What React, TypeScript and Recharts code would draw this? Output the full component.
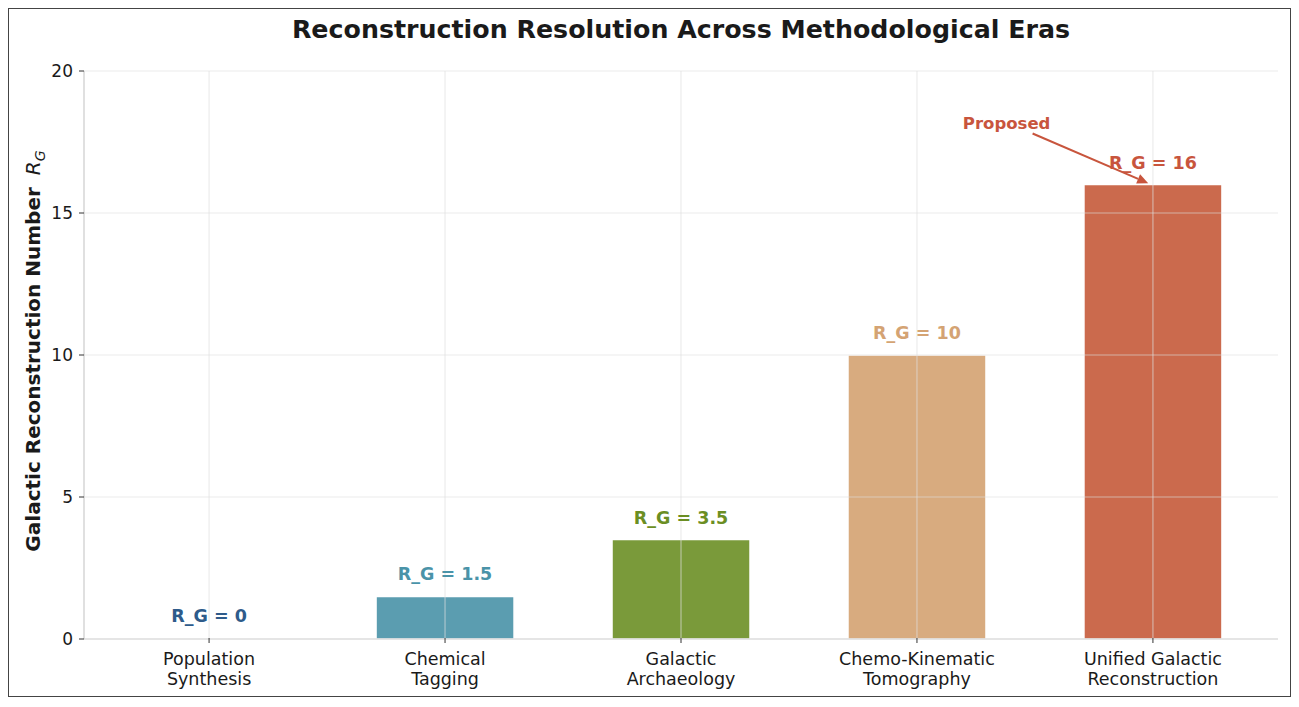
import React from 'react';
import {
  BarChart,
  Bar,
  Cell,
  XAxis,
  YAxis,
  LabelList,
  ReferenceLine,
  ReferenceDot,
} from 'recharts';

const eraNames = [
  ['Population', 'Synthesis'],
  ['Chemical', 'Tagging'],
  ['Galactic', 'Archaeology'],
  ['Chemo-Kinematic', 'Tomography'],
  ['Unified Galactic', 'Reconstruction'],
];
const reconstructionNumber = [0, 1.5, 3.5, 10, 16];
const labelColors = ['#2e5b8a', '#4a93a8', '#6b8e23', '#d4a373', '#c8553d'];
const barColors = ['#2e5b8a', '#5b9db0', '#7a9a3a', '#d8ab7f', '#cb6a4d'];
const yTicks = [0, 5, 10, 15, 20];
const xTicks = [0, 1, 2, 3, 4];

// "Proposed" callout: text anchor and arrow tail/head in data units
const proposedText = { x: 3.38, y: 18.15 };
const proposedArrow = [
  { x: 3.49, y: 17.8 },
  { x: 3.98, y: 16.05 },
];

const FONT = '"DejaVu Sans", "Liberation Sans", sans-serif';
const GRID = { stroke: '#e0e0e0', strokeOpacity: 0.6, strokeWidth: 1.2 };

const data = reconstructionNumber.map((v, i) => ({ idx: i, value: v }));

const EraTick = (props: any) => {
  const { x, y, payload } = props;
  const lines = eraNames[payload.value] || [];
  return (
    <g>
      <line x1={x} x2={x} y1={y - 9} y2={y - 4} stroke="#333" strokeWidth={1} />
      {lines.map((t, i) => (
        <text
          key={i}
          x={x}
          y={y + 18 + i * 20}
          textAnchor="middle"
          fontSize={17.5}
          fontFamily={FONT}
          fill="#1a1a1a"
        >
          {t}
        </text>
      ))}
    </g>
  );
};

const ValueLabel = (props: any) => {
  const { x, y, width, value } = props;
  const i = reconstructionNumber.indexOf(Number(value));
  return (
    <text
      x={x + width / 2}
      y={y - 16}
      textAnchor="middle"
      fontSize={17.5}
      fontWeight="bold"
      fontFamily={FONT}
      fill={labelColors[i]}
    >
      {`R_G = ${value}`}
    </text>
  );
};

const YTitle = (props: any) => {
  const { viewBox } = props;
  const cy = viewBox.y + viewBox.height / 2 - 4;
  const cx = 31;
  return (
    <text
      transform={`translate(${cx},${cy}) rotate(-90)`}
      textAnchor="middle"
      fontFamily={FONT}
      fontSize={20}
      fill="#1a1a1a"
    >
      <tspan fontWeight="bold">Galactic Reconstruction Number</tspan>
      <tspan dx={12} fontStyle="italic" fontWeight="normal">R</tspan>
      <tspan fontStyle="italic" fontSize={14} dy={5}>G</tspan>
    </text>
  );
};

const Arrow = (props: any) => {
  const { x1, y1, x2, y2 } = props;
  const ang = Math.atan2(y2 - y1, x2 - x1);
  const len = 11;
  const w = 5;
  const bx = x2 - len * Math.cos(ang);
  const by = y2 - len * Math.sin(ang);
  const px = -Math.sin(ang) * w;
  const py = Math.cos(ang) * w;
  return (
    <g>
      <line x1={x1} y1={y1} x2={bx} y2={by} stroke="#c8553d" strokeWidth={2} />
      <path d={`M${x2},${y2} L${bx + px},${by + py} L${bx - px},${by - py} Z`} fill="#c8553d" />
    </g>
  );
};

export default function App() {
  return (
    <div
      style={{
        position: 'relative',
        width: 1281,
        height: 687,
        border: '1px solid #444',
        background: '#fff',
      }}
    >
      <div
        style={{
          position: 'absolute',
          left: 75,
          width: 1194,
          top: 6,
          textAlign: 'center',
          fontFamily: FONT,
          fontWeight: 'bold',
          fontSize: 25.3,
          color: '#1a1a1a',
        }}
      >
        Reconstruction Resolution Across Methodological Eras
      </div>
      <BarChart
        width={1281}
        height={687}
        data={data}
        margin={{ top: 62, right: 12, bottom: 0, left: 0 }}
      >
        <XAxis
          dataKey="idx"
          type="number"
          domain={[-0.53, 4.53]}
          ticks={xTicks}
          interval={0}
          height={57}
          axisLine={{ stroke: '#cccccc', strokeWidth: 1.2 }}
          tickLine={false}
          tick={<EraTick />}
        />
        <YAxis
          type="number"
          domain={[0, 20]}
          ticks={yTicks}
          width={75}
          axisLine={{ stroke: '#cccccc', strokeWidth: 1.2 }}
          tickLine={{ stroke: '#333' }}
          tickSize={5}
          tickMargin={6}
          tick={{ fontSize: 17, fill: '#1a1a1a', fontFamily: FONT }}
          label={{ content: <YTitle /> }}
        />
        <Bar
          dataKey="value"
          barSize={138}
          minPointSize={1}
          stroke="#ffffff"
          strokeWidth={1.5}
          isAnimationActive={false}
        >
          {data.map((d, i) => (
            <Cell
              key={i}
              fill={d.value === 0 ? 'none' : barColors[i]}
              stroke={d.value === 0 ? 'none' : '#ffffff'}
            />
          ))}
          <LabelList dataKey="value" content={<ValueLabel />} />
        </Bar>
        {/* grid drawn over the bars */}
        {yTicks.slice(1).map((v) => (
          <ReferenceLine key={`gy${v}`} y={v} {...GRID} />
        ))}
        {xTicks.map((v) => (
          <ReferenceLine key={`gx${v}`} x={v} {...GRID} />
        ))}
        <ReferenceLine
          segment={proposedArrow}
          shape={(p: any) => <Arrow {...p} />}
        />
        <ReferenceDot
          x={proposedText.x}
          y={proposedText.y}
          r={0}
          fill="none"
          stroke="none"
          label={{
            value: 'Proposed',
            position: 'center',
            fill: '#c8553d',
            fontWeight: 'bold',
            fontSize: 16.5,
            fontFamily: FONT,
          }}
        />
      </BarChart>
    </div>
  );
}
